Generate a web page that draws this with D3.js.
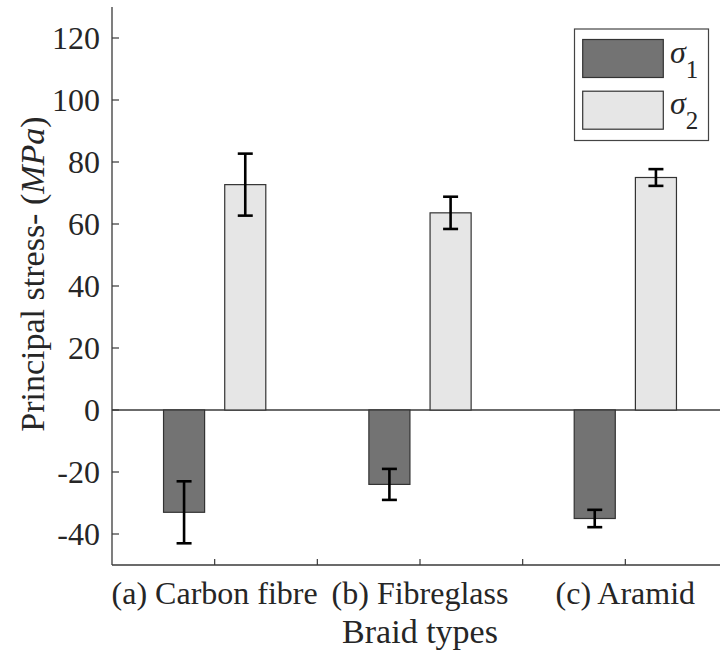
<!DOCTYPE html>
<html>
<head>
<meta charset="utf-8">
<script src="https://cdn.jsdelivr.net/npm/d3@7"></script>
<style>
  html, body { margin: 0; padding: 0; background: #fff; }
  svg { display: block; }
</style>
</head>
<body>
<svg id="chart" width="720" height="655"></svg>
<script>
// Braid types and principal stress results (MPa)
const categories = ["(a) Carbon fibre", "(b) Fibreglass", "(c) Aramid"];
const sigma1 = [-33, -24, -35];
const sigma1Err = [10, 5, 2.8];
const sigma2 = [72.7, 63.6, 75.0];
const sigma2Err = [10, 5.2, 2.7];
const yTicks = [-40, -20, 0, 20, 40, 60, 80, 100, 120];
const xTicks = [1, 1.5, 2, 2.5, 3, 3.5];
const seriesNames = ["σ1", "σ2"];

const FONT = "'Liberation Serif', Tinos, 'Times New Roman', Times, serif";
const svg = d3.select("#chart");
const W = 720, H = 655;
const plotL = 112, plotR = 728, plotT = 7, plotB = 565;
const axisColor = "#3a3a3a";
const textColor = "#262626";

const x = d3.scaleLinear().domain([0.5, 3.5]).range([plotL, plotR]);
const y = d3.scaleLinear().domain([-50, 130]).range([plotB, plotT]);

const barOffset = 0.149, barW = 0.2;
const series = [
  { name: seriesNames[0], vals: sigma1, err: sigma1Err, fill: "#737373", off: -barOffset },
  { name: seriesNames[1], vals: sigma2, err: sigma2Err, fill: "#e6e6e6", off: barOffset }
];

// zero baseline
svg.append("line")
  .attr("x1", x(0.5)).attr("x2", W)
  .attr("y1", y(0)).attr("y2", y(0))
  .attr("stroke", axisColor).attr("stroke-width", 1.3);

// bars
series.forEach(s => {
  svg.append("g").selectAll("rect")
    .data(s.vals)
    .join("rect")
    .attr("x", (d, i) => x(i + 1 + s.off - barW / 2))
    .attr("width", x(0.5 + barW) - x(0.5))
    .attr("y", d => y(Math.max(0, d)))
    .attr("height", d => Math.abs(y(d) - y(0)))
    .attr("fill", s.fill)
    .attr("stroke", "#333")
    .attr("stroke-width", 1.2);
});

// error bars
const capHalf = 7.5;
series.forEach(s => {
  const g = svg.append("g").attr("stroke", "#000").attr("stroke-width", 2.6);
  s.vals.forEach((v, i) => {
    const cx = x(i + 1 + s.off);
    const lo = y(v - s.err[i]), hi = y(v + s.err[i]);
    g.append("line").attr("x1", cx).attr("x2", cx).attr("y1", lo).attr("y2", hi);
    g.append("line").attr("x1", cx - capHalf).attr("x2", cx + capHalf).attr("y1", lo).attr("y2", lo);
    g.append("line").attr("x1", cx - capHalf).attr("x2", cx + capHalf).attr("y1", hi).attr("y2", hi);
  });
});

// axes lines
svg.append("line").attr("x1", plotL).attr("x2", plotL).attr("y1", plotT).attr("y2", plotB)
  .attr("stroke", axisColor).attr("stroke-width", 1.3);
svg.append("line").attr("x1", plotL).attr("x2", W).attr("y1", plotB).attr("y2", plotB)
  .attr("stroke", axisColor).attr("stroke-width", 1.3);

// y ticks (inward) and labels
const fs = 32, fsTitle = 34;
svg.append("g").selectAll("line").data(yTicks).join("line")
  .attr("x1", plotL).attr("x2", plotL + 7)
  .attr("y1", d => y(d)).attr("y2", d => y(d))
  .attr("stroke", axisColor).attr("stroke-width", 1.2);
svg.append("g").selectAll("text").data(yTicks).join("text")
  .attr("x", plotL - 12).attr("y", d => y(d))
  .attr("dy", "0.34em")
  .attr("text-anchor", "end")
  .attr("font-family", FONT)
  .attr("font-size", fs).attr("fill", textColor)
  .text(d => d);

// x ticks (inward)
svg.append("g").selectAll("line").data(xTicks).join("line")
  .attr("x1", d => x(d)).attr("x2", d => x(d))
  .attr("y1", plotB).attr("y2", plotB - 6)
  .attr("stroke", axisColor).attr("stroke-width", 1.2);

// category captions at the group centres
svg.append("g").selectAll("text").data(categories).join("text")
  .attr("x", (d, i) => x(i + 1)).attr("y", 604)
  .attr("text-anchor", "middle")
  .attr("font-family", FONT)
  .attr("font-size", fs).attr("fill", textColor)
  .text(d => d);

// axis titles
svg.append("text")
  .attr("x", x(2)).attr("y", 643)
  .attr("text-anchor", "middle")
  .attr("font-family", FONT)
  .attr("font-size", fsTitle).attr("fill", textColor)
  .text("Braid types");

const yt = svg.append("text")
  .attr("transform", "translate(44,274) rotate(-90)")
  .attr("text-anchor", "middle")
  .attr("font-family", FONT)
  .attr("font-size", fsTitle).attr("fill", textColor);
yt.append("tspan").text("Principal stress- (");
yt.append("tspan").attr("font-style", "italic").text("MPa");
yt.append("tspan").text(")");

// legend
const lg = svg.append("g");
lg.append("rect").attr("x", 574.5).attr("y", 29).attr("width", 134).attr("height", 111.5)
  .attr("fill", "#fff").attr("stroke", "#444").attr("stroke-width", 1.2);
series.forEach((s, i) => {
  const sy = 39.5 + i * 51.7;
  lg.append("rect").attr("x", 582.7).attr("y", sy).attr("width", 80.6).attr("height", 38)
    .attr("fill", s.fill).attr("stroke", "#333").attr("stroke-width", 1.2);
  const t = lg.append("text").attr("x", 670).attr("y", sy + 23)
    .attr("font-family", FONT)
    .attr("font-size", fs).attr("fill", textColor);
  t.append("tspan").attr("font-style", "italic").text(s.name.charAt(0));
  t.append("tspan").attr("dy", 15).attr("font-size", 25).text(s.name.slice(1));
});
</script>
</body>
</html>
